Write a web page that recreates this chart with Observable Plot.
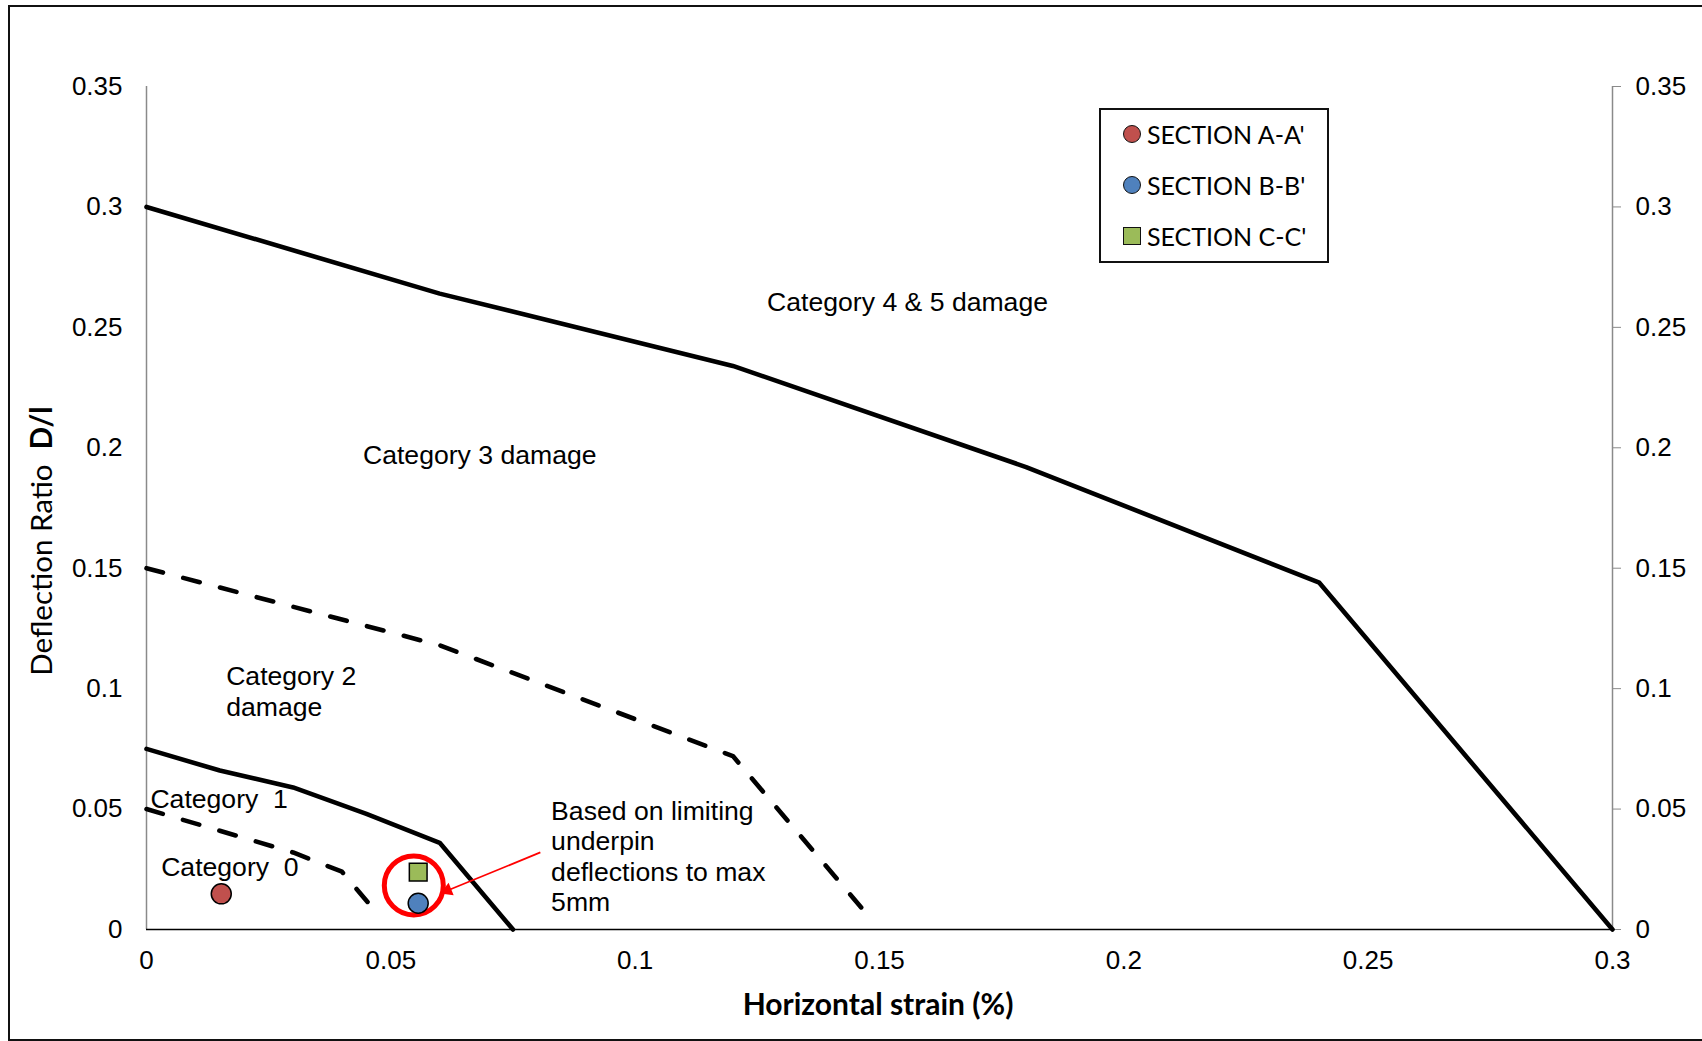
<!DOCTYPE html>
<html>
<head>
<meta charset="utf-8">
<script src="https://cdn.jsdelivr.net/npm/d3@7"></script>
<script src="https://cdn.jsdelivr.net/npm/@observablehq/plot@0.6"></script>
<style>
  html, body { margin: 0; padding: 0; background: #fff; }
  #wrap { position: relative; width: 1702px; height: 1041px; overflow: hidden; }
  #frame { position: absolute; left: 8px; top: 5px; width: 1720px; height: 1032px; border: 2px solid #111; box-sizing: content-box; pointer-events: none; }
  #chart { position: absolute; left: 0; top: 0; }
  .title { position: absolute; font-family: Lato, "Open Sans", sans-serif; color: #000; white-space: nowrap; }
  #xtitle { left: 878px; top: 1003px; transform: translate(-50%, -50%); font-size: 30px; font-weight: 700; }
  #ytitle { left: 40px; top: 541px; transform: translate(-50%, -50%) rotate(-90deg); font-size: 29.5px; }
  #ytitle b { font-weight: 700; }
  #legend { position: absolute; left: 1099px; top: 108px; width: 226px; height: 151px; border: 2px solid #111; background: #fff; font-family: Lato, "Open Sans", sans-serif; font-size: 25px; }
  .row { position: absolute; left: 0; height: 30px; display: flex; align-items: center; }
  .mk { position: absolute; left: 22px; width: 18px; height: 18px; border: 1.5px solid #111; box-sizing: border-box; }
  .lbl { position: absolute; left: 46px; white-space: nowrap; }
</style>
</head>
<body>
<div id="wrap">
  <div id="chart"></div>
  <div id="frame"></div>
  <div id="xtitle" class="title">Horizontal strain (%)</div>
  <div id="ytitle" class="title">Deflection Ratio&nbsp;&nbsp;<b>D/l</b></div>
  <div id="legend"></div>
</div>
<script>
// ---- Data ----
const xTicks = [0, 0.05, 0.1, 0.15, 0.2, 0.25, 0.3];
const yTicks = [0, 0.05, 0.1, 0.15, 0.2, 0.25, 0.3, 0.35];

// Damage category boundaries (horizontal strain %, deflection ratio)
const cat45X = [0, 0.06, 0.12, 0.18, 0.24, 0.3];
const cat45Y = [0.3, 0.264, 0.234, 0.192, 0.144, 0];
const cat3X = [0, 0.06, 0.12, 0.148];
const cat3Y = [0.15, 0.118, 0.072, 0.005];
const cat2X = [0, 0.015, 0.03, 0.045, 0.06, 0.075];
const cat2Y = [0.075, 0.066, 0.059, 0.048, 0.036, 0];
const cat1X = [0, 0.015, 0.03, 0.04, 0.0475];
const cat1Y = [0.05, 0.041, 0.032, 0.024, 0.006];

// Sections
const sectionNames = ["SECTION A-A'", "SECTION B-B'", "SECTION C-C'"];
const sectionX = [0.0153, 0.0556, 0.0556];
const sectionY = [0.0148, 0.0109, 0.0238];
const sectionColors = ["#C0504D", "#4F81BD", "#9BBB59"];
const sectionShapes = ["circle", "circle", "square"];

// Region labels
const labelTexts = ["Category 4 & 5 damage", "Category 3 damage", "Category 2\ndamage", "Category \u00a01", "Category \u00a00", "Based on limiting\nunderpin\ndeflections to max\n5mm"];
const labelX = [0.127, 0.0443, 0.0163, 0.0008, 0.003, 0.0828];
const labelY = [0.2607, 0.1973, 0.0991, 0.0544, 0.0261, 0.0306];

// Highlight circle and arrow
const highlightX = [0.0547];
const highlightY = [0.0183];
const arrowFrom = [0.0806, 0.032];
const arrowTo = [0.0616, 0.0162];
const arrowHeadAngle = [248];

// ---- Build tables ----
const zip = (xs, ys) => xs.map((x, i) => ({x, y: ys[i]}));
const solid = [zip(cat45X, cat45Y), zip(cat2X, cat2Y)];
const dashed = [zip(cat3X, cat3Y), zip(cat1X, cat1Y)];
const sections = sectionNames.map((name, i) => ({name, x: sectionX[i], y: sectionY[i], color: sectionColors[i], shape: sectionShapes[i]}));
const labels = labelTexts.map((t, i) => ({t, x: labelX[i], y: labelY[i]}));
const fmt = d => String(+d.toFixed(2));

const W = 1702, H = 1041;
const plot = Plot.plot({
  width: W,
  height: H,
  marginLeft: 146,
  marginRight: 90,
  marginTop: 86,
  marginBottom: 112,
  style: {fontFamily: "'Liberation Sans', Arial, sans-serif", fontSize: "26px", background: "transparent", color: "#000"},
  x: {domain: [0, 0.3]},
  y: {domain: [0, 0.35]},
  marks: [
    Plot.axisY(yTicks, {anchor: "left", tickSize: 0, tickPadding: 24, tickFormat: fmt, label: null, fontSize: 26}),
    Plot.axisY(yTicks, {anchor: "right", tickSize: 8, tickPadding: 15, tickFormat: fmt, label: null, stroke: "#8a8a8a", fill: "#000", fontSize: 26}),
    Plot.axisX(xTicks, {anchor: "bottom", tickSize: 0, tickPadding: 21, tickFormat: fmt, label: null, fontSize: 26}),
    Plot.ruleX([0], {stroke: "#8a8a8a", strokeWidth: 1.5}),
    Plot.ruleX([0.3], {stroke: "#8a8a8a", strokeWidth: 1.5}),
    Plot.ruleY([0], {stroke: "#000", strokeWidth: 1.5}),
    ...solid.map(d => Plot.line(d, {x: "x", y: "y", stroke: "#000", strokeWidth: 4.6, strokeLinejoin: "round"})),
    ...dashed.map(d => Plot.line(d, {x: "x", y: "y", stroke: "#000", strokeWidth: 4.6, strokeDasharray: "17,21", strokeLinecap: "round", strokeLinejoin: "round"})),
    Plot.text(labels, {x: "x", y: "y", text: "t", textAnchor: "start", lineHeight: 1.15, fontSize: 26.6, fill: "#000"}),
    Plot.dot(highlightX.map((x, i) => ({x, y: highlightY[i]})), {x: "x", y: "y", r: 29.5, stroke: "#FF0000", strokeWidth: 5, fill: "none"}),
    Plot.link([{x1: arrowFrom[0], y1: arrowFrom[1], x2: arrowTo[0], y2: arrowTo[1]}], {x1: "x1", y1: "y1", x2: "x2", y2: "y2", stroke: "#FF0000", strokeWidth: 1.8}),
    Plot.dot([{x: arrowTo[0], y: arrowTo[1], a: arrowHeadAngle[0]}], {x: "x", y: "y", symbol: "triangle", r: 5, rotate: "a", fill: "#FF0000", stroke: "none"}),
    Plot.dot(sections, {x: "x", y: "y", symbol: "shape", r: 10, fill: "color", stroke: "#000", strokeWidth: 1.5})
  ]
});
document.getElementById("chart").appendChild(plot);

// ---- Legend ----
const legend = document.getElementById("legend");
sections.forEach((s, i) => {
  const row = document.createElement("div");
  row.className = "row";
  row.style.top = (9 + i * 51) + "px";
  const mk = document.createElement("span");
  mk.className = "mk";
  mk.style.background = s.color;
  if (s.shape === "circle") mk.style.borderRadius = "50%";
  const lbl = document.createElement("span");
  lbl.className = "lbl";
  lbl.textContent = s.name;
  row.appendChild(mk);
  row.appendChild(lbl);
  legend.appendChild(row);
});
</script>
</body>
</html>
